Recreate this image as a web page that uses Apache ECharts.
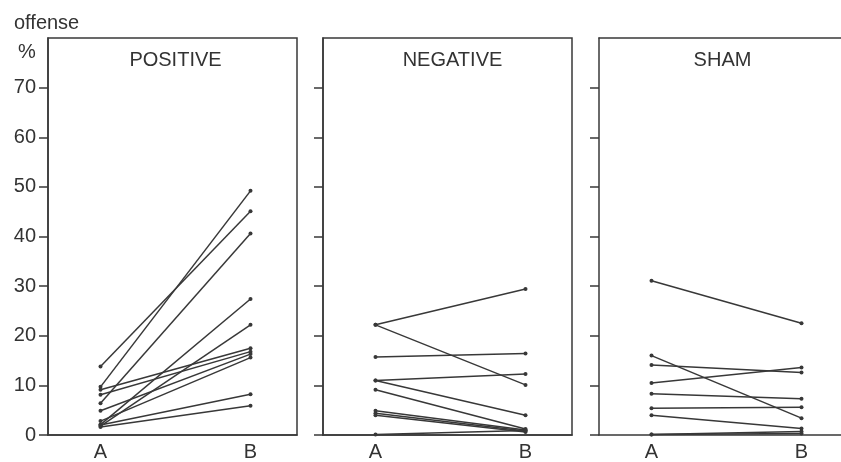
<!DOCTYPE html>
<html><head><meta charset="utf-8">
<script src="https://cdn.jsdelivr.net/npm/echarts@6/dist/echarts.min.js"></script>
<style>html,body{margin:0;padding:0;background:#fff}#c{width:841px;height:462px}</style>
</head><body><div id="c"></div>
<script>
// ---- data ----
const panelTitles = ['POSITIVE', 'NEGATIVE', 'SHAM'];
const xCats = ['A', 'B'];
const xPos = [1, 4];
const yTicks = [0, 10, 20, 30, 40, 50, 60, 70];
const yLabel1 = 'offense';
const yLabel2 = '%';

const posA = [9.7, 13.8, 6.4, 2.1, 1.8, 9.1, 8.1, 4.9, 2.8, 2.0, 1.6];
const posB = [49.2, 45.1, 40.6, 27.4, 22.2, 17.5, 16.8, 16.3, 15.6, 8.2, 5.9];
const negA = [22.2, 22.2, 15.7, 11.0, 11.0, 9.1, 4.9, 4.4, 4.0, 0.1];
const negB = [29.4, 10.1, 16.4, 12.3, 4.0, 1.2, 1.0, 0.8, 0.6, 0.9];
const shamA = [31.1, 16.0, 14.1, 10.5, 8.3, 5.4, 4.0, 0.1, 0.1];
const shamB = [22.5, 3.4, 12.6, 13.6, 7.3, 5.6, 1.3, 0.7, 0.3];

// ---- chart ----
const INK = '#383838';
const FONT = '"Liberation Sans", Arial, sans-serif';
const lefts = [48, 323, 599];
const W = 249;
const W3 = 841 - lefts[2];
const XMIN = -0.05, XSPAN = 4.98;
const panels = [[posA, posB], [negA, negB], [shamA, shamB]];

const grid = lefts.map((l, i) => {
  const g = {left: l, top: 38, bottom: 25, show: i < 2,
    borderColor: INK, borderWidth: 1.5, backgroundColor: 'transparent'};
  if (i < 2) g.width = W; else g.right = 0;
  return g;
});

const xAxis = lefts.map((l, i) => ({
  gridIndex: i, type: 'value', min: XMIN, max: XMIN + XSPAN * (i < 2 ? 1 : W3 / W),
  axisLine: {show: true, onZero: false, lineStyle: {color: INK, width: 1.5}},
  axisTick: {show: false}, splitLine: {show: false},
  axisLabel: {customValues: xPos, formatter: v => xCats[xPos.indexOf(v)] || '',
    color: '#333', fontFamily: FONT, fontSize: 20, margin: 7}
}));
// top frame line of the third panel
xAxis.push({gridIndex: 2, type: 'value', position: 'top', min: 0, max: 1,
  axisLine: {show: true, onZero: false, lineStyle: {color: INK, width: 1.5}},
  axisTick: {show: false}, axisLabel: {show: false}, splitLine: {show: false}});

const yAxis = lefts.map((l, i) => ({
  gridIndex: i, type: 'value', min: 0, max: 80,
  axisLine: {show: true, onZero: false, lineStyle: {color: INK, width: 1.5}},
  axisTick: {show: true, length: 9, customValues: yTicks, lineStyle: {color: INK, width: 1.5}},
  splitLine: {show: false},
  axisLabel: {show: i === 0, customValues: yTicks, color: '#333', fontFamily: FONT, fontSize: 20, margin: 12}
}));

const series = [];
panels.forEach((p, pi) => {
  p[0].forEach((a, k) => {
    series.push({type: 'line', xAxisIndex: pi, yAxisIndex: pi,
      data: [[xPos[0], a], [xPos[1], p[1][k]]],
      symbol: 'circle', symbolSize: 4, showSymbol: true,
      lineStyle: {color: INK, width: 1.5}, itemStyle: {color: INK},
      silent: true, animation: false});
  });
});

const titleShift = [-2, 0, -6];
const title = panelTitles.map((t, i) => ({text: t, left: lefts[i] + W / 2 + titleShift[i], top: 45, textAlign: 'center',
  textStyle: {fontFamily: FONT, fontSize: 20, fontWeight: 'normal', color: '#333'}}));
title.push({text: yLabel1, left: 9, top: 8, textStyle: {fontFamily: FONT, fontSize: 20, fontWeight: 'normal', color: '#333'}});
title.push({text: yLabel2, left: 13, top: 37, textStyle: {fontFamily: FONT, fontSize: 20, fontWeight: 'normal', color: '#333'}});

const chart = echarts.init(document.getElementById('c'), null, {renderer: 'canvas'});
chart.setOption({animation: false, backgroundColor: '#fff', title, grid, xAxis, yAxis, series});
</script></body></html>
